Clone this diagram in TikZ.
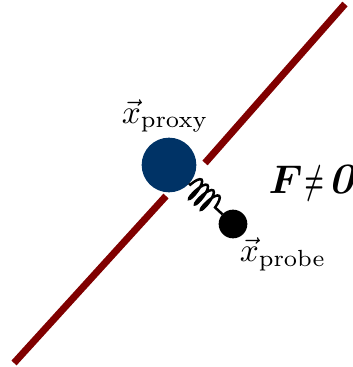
\documentclass[tikz,border=0pt]{standalone}
\usepackage{amsmath,amssymb,bm,graphicx}
\usetikzlibrary{decorations.pathmorphing}
\definecolor{wallred}{RGB}{128,0,0}
\definecolor{proxyblue}{RGB}{0,51,102}
\begin{document}
\begin{tikzpicture}[x=0.3pt,y=-0.3pt,
  wall/.style={wallred, line width=2.1pt},
  ball/.style={circle, inner sep=0pt, outer sep=0pt},
  spring/.style={line width=0.75pt, decorate,
    decoration={coil, aspect=0.25, segment length=2.4pt, amplitude=3.4pt,
      pre length=0.5pt, post length=0.8pt}},
  lbl/.style={inner sep=0pt}]
\useasboundingbox (0,0) rectangle (352,367);
\coordinate (w1) at (345,4);
\coordinate (w2) at (205,163);
\coordinate (w3) at (166,196);
\coordinate (w4) at (14,363);
\draw[wall] (w1) -- (w2);
\draw[wall] (w3) -- (w4);
\node[ball, fill=proxyblue, minimum size=16.4pt] (proxy) at (169,165) {};
\node[ball, fill=black, minimum size=8.6pt] (probe) at (233,224) {};
\draw[spring] (proxy) -- (probe);
\node[lbl, anchor=base] (lproxy) at (165,123) {$\vec{x}_{\text{proxy}}$};
\node[lbl, anchor=base] (lprobe) at (283,261) {$\vec{x}_{\text{probe}}$};
\node[lbl, anchor=base west] (force) at (268,193)
  {\fontsize{13}{16}\selectfont{\boldmath$F$}\hspace{0.6pt}\scalebox{0.55}[1]{\boldmath$\neq$}\hspace{1.4pt}\textbf{\itshape 0}};
\end{tikzpicture}
\end{document}
